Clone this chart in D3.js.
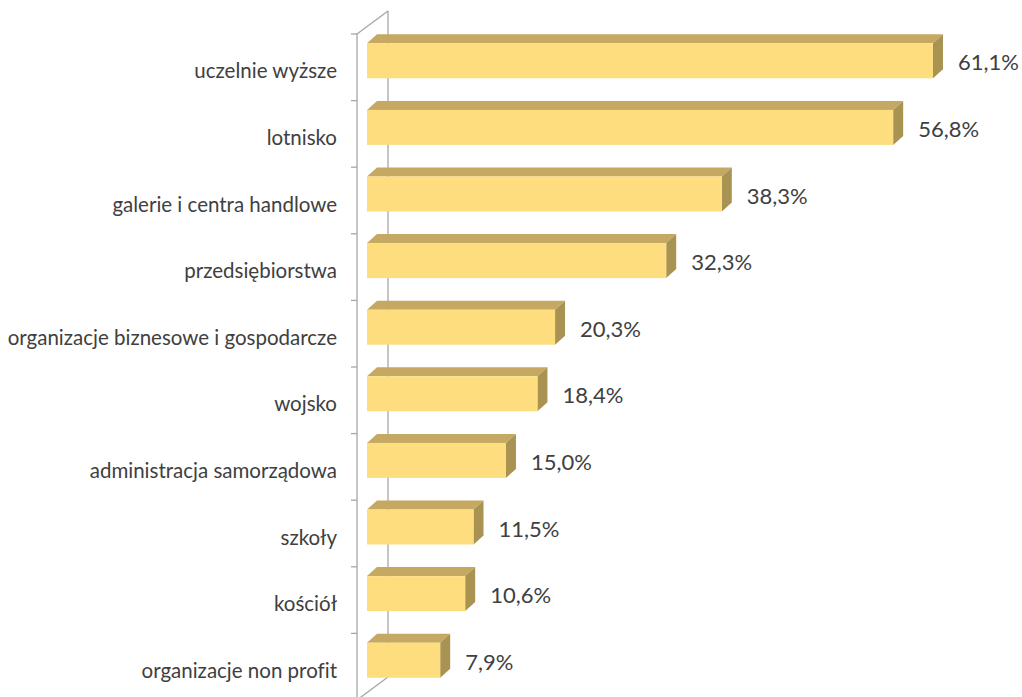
<!DOCTYPE html>
<html>
<head>
<meta charset="utf-8">
<script src="https://cdn.jsdelivr.net/npm/d3@7"></script>
<style>
  body { margin: 0; background: #fff; }
  svg { display: block; }
  text { font-variant-ligatures: none; }
</style>
</head>
<body>
<svg></svg>
<script>
const width = 1022;
const height = 697;

const categories = [
  "uczelnie wyższe",
  "lotnisko",
  "galerie i centra handlowe",
  "przedsiębiorstwa",
  "organizacje biznesowe i gospodarcze",
  "wojsko",
  "administracja samorządowa",
  "szkoły",
  "kościół",
  "organizacje non profit"
];
const values = [61.1, 56.8, 38.3, 32.3, 20.3, 18.4, 15.0, 11.5, 10.6, 7.9];
const valueLabels = ["61,1%", "56,8%", "38,3%", "32,3%", "20,3%", "18,4%", "15,0%", "11,5%", "10,6%", "7,9%"];

const data = categories.map((c, i) => ({ cat: c, v: values[i], label: valueLabels[i] }));

let svg = d3.select("svg")
    .attr("width", width)
    .attr("height", height);

// scales
const y = d3.scaleBand()
    .domain(categories)
    .range([34, 700]);

const x = d3.scaleLinear()
    .domain([0, 61.1])
    .range([367, 933]);

// wall depth and bar depth
const wdx = 31, wdy = -23;
const bdx = 10, bdy = -9;
const barTop = 9.3, barH = 35;
const axisX = 357;

const wall = svg.append("g")
    .attr("stroke", "#a6a6a6")
    .attr("stroke-width", 1.3)
    .attr("fill", "none");

const top0 = y.range()[0], bot0 = y.range()[1];

wall.append("line").attr("x1", axisX).attr("y1", top0).attr("x2", axisX).attr("y2", bot0);
wall.append("line").attr("x1", axisX + wdx).attr("y1", top0 + wdy).attr("x2", axisX + wdx).attr("y2", bot0 + wdy);
wall.append("line").attr("x1", axisX).attr("y1", top0).attr("x2", axisX + wdx).attr("y2", top0 + wdy);
wall.append("line").attr("x1", axisX).attr("y1", bot0).attr("x2", axisX + wdx).attr("y2", bot0 + wdy);

// ticks between categories
const tickYs = categories.map(c => y(c)).concat([bot0]);
wall.selectAll(".tick")
    .data(tickYs)
    .join("line")
    .attr("x1", axisX - 6)
    .attr("x2", axisX)
    .attr("y1", d => d)
    .attr("y2", d => d);

// bars
const bars = svg.append("g")
    .selectAll("g")
    .data(data)
    .join("g");

bars.append("polygon")
    .attr("fill", "#c5a962")
    .attr("points", d => {
        const t = y(d.cat) + barTop;
        const x0 = x(0), x1 = x(d.v);
        return [[x0, t], [x0 + bdx, t + bdy], [x1 + bdx, t + bdy], [x1, t]].join(" ");
    });

bars.append("polygon")
    .attr("fill", "#a99352")
    .attr("points", d => {
        const t = y(d.cat) + barTop;
        const x1 = x(d.v);
        return [[x1, t], [x1 + bdx, t + bdy], [x1 + bdx, t + bdy + barH], [x1, t + barH]].join(" ");
    });

bars.append("rect")
    .attr("fill", "#fddd7e")
    .attr("x", x(0))
    .attr("y", d => y(d.cat) + barTop)
    .attr("width", d => x(d.v) - x(0))
    .attr("height", barH);

// value labels
bars.append("text")
    .attr("x", d => x(d.v) + bdx + 15)
    .attr("y", d => y(d.cat) + barTop + barH / 2 + 1)
    .attr("dominant-baseline", "central")
    .attr("font-family", "Lato, 'Open Sans', sans-serif")
    .attr("font-size", 22)
    .attr("fill", "#404040")
    .text(d => d.label);

// category labels
svg.append("g")
    .selectAll("text")
    .data(categories)
    .join("text")
    .attr("x", 337)
    .attr("y", d => y(d) + y.bandwidth() / 2 + 3)
    .attr("text-anchor", "end")
    .attr("dominant-baseline", "central")
    .attr("font-family", "Lato, 'Open Sans', sans-serif")
    .attr("font-size", 20.5)
    .attr("fill", "#404040")
    .text(d => d);
</script>
</body>
</html>
